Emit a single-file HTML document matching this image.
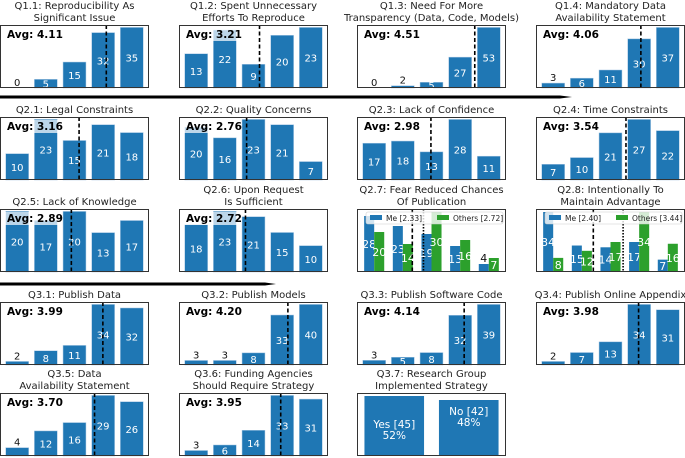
<!DOCTYPE html>
<html><head><meta charset="utf-8"><style>
html,body{margin:0;padding:0;background:#fff;}
svg{display:block;font-family:"DejaVu Sans","Liberation Sans",sans-serif;}
</style></head><body>
<svg id="fig" width="685" height="458" viewBox="0 0 685 458"></svg>
<script>
const titles = [
 ["Q1.1: Reproducibility As","Significant Issue"],["Q1.2: Spent Unnecessary","Efforts To Reproduce"],
 ["Q1.3: Need For More","Transparency (Data, Code, Models)"],["Q1.4: Mandatory Data","Availability Statement"],
 ["Q2.1: Legal Constraints"],["Q2.2: Quality Concerns"],["Q2.3: Lack of Confidence"],["Q2.4: Time Constraints"],
 ["Q2.5: Lack of Knowledge"],["Q2.6: Upon Request","Is Sufficient"],["Q2.7: Fear Reduced Chances","Of Publication"],["Q2.8: Intentionally To","Maintain Advantage"],
 ["Q3.1: Publish Data"],["Q3.2: Publish Models"],["Q3.3: Publish Software Code"],["Q3.4: Publish Online Appendix"],
 ["Q3.5: Data","Availability Statement"],["Q3.6: Funding Agencies","Should Require Strategy"],["Q3.7: Research Group","Implemented Strategy"]
];
const values = [
 [0,5,15,32,35],[13,22,9,20,23],[0,2,5,27,53],[3,6,11,30,37],
 [10,23,15,21,18],[20,16,23,21,7],[17,18,13,28,11],[7,10,21,27,22],
 [20,17,20,13,17],[18,23,21,15,10],null,null,
 [2,8,11,34,32],[3,3,8,33,40],[3,5,8,32,39],[2,7,13,34,31],
 [4,12,16,29,26],[3,6,14,33,31],null
];
const averages = [4.11,3.21,4.51,4.06,3.16,2.76,2.98,3.54,2.89,2.72,null,null,3.99,4.20,4.14,3.98,3.70,3.95,null];
const meQ27 = [28,23,19,13,4];
const othersQ27 = [20,14,30,16,7];
const meanQ27 = [2.33,2.72];
const meQ28 = [34,15,14,17,7];
const othersQ28 = [8,12,17,34,16];
const meanQ28 = [2.40,3.44];
const yesNoCounts = [45,42];
const yesNoLabels = ["Yes","No"];

const NS="http://www.w3.org/2000/svg";
const svg=document.getElementById('fig');
const colX=[0,179,357,536], rowY=[25,117,209,302,393], AW=149, AH=63;
const BLUE="#1f77b4", GREEN="#2ca02c";
function mk(tag,attrs,parent){const e=document.createElementNS(NS,tag);for(const k in attrs)e.setAttribute(k,attrs[k]);(parent||svg).appendChild(e);return e;}

let sep=mk('polygon',{points:"0,95.5 560,95.5 572,97 560,98.5 0,98.5",fill:"#000"});


sep=mk('polygon',{points:"0,282.5 265,282.5 276,284 265,285.5 0,285.5",fill:"#000"});



function panel(i){
  const x0=colX[i%4], y0=rowY[Math.floor(i/4)];
  const g=mk('g',{});
  
  
  const tl=titles[i];
  tl.forEach((t,k)=>{
    const tt=mk('text',{x:x0+AW/2,y:y0-4-(tl.length-1-k)*12,'text-anchor':'middle','font-size':'10',fill:'#222'},g);
    tt.textContent=t;
    
    
  });
  return {g,x0,y0};
}
function xs(x0,v,lo,hi){return x0+(v-lo)/(hi-lo)*AW;}
function ys(y0,v,ymax){return y0+AH-v/ymax*AH;}
function frame(g,x0,y0){
  const f=mk('rect',{x:x0+0.5,y:y0+0.5,width:AW-1,height:AH-1,fill:'none',stroke:'#333','stroke-width':1},g);
  
  
}
function barLabel(g,cx,top,bot,v,fs){
  const inside=v>=5;
  const t=mk('text',{x:cx,y:inside?(top+bot)/2+4:top-2,'text-anchor':'middle','font-size':fs||10,fill:inside?'#fff':'#111'},g);
  t.textContent=v;
  
  
}

for(let i=0;i<19;i++){
  const {g,x0,y0}=panel(i);
  if(values[i]){
    const vals=values[i], ymax=Math.max(...vals)*1.04;
    vals.forEach((v,k)=>{
      const l=xs(x0,k-0.4,-0.6,4.6), r=xs(x0,k+0.4,-0.6,4.6);
      const top=ys(y0,v,ymax), bot=y0+AH;
      const b=mk('rect',{x:l,y:top,width:r-l,height:bot-top,fill:BLUE,stroke:'#a9c8e4','stroke-width':0.5},g);
      
      
      barLabel(g,(l+r)/2,top,bot,v);
    });
    const mx=xs(x0,averages[i]-1,-0.6,4.6);
    const ml=mk('line',{x1:mx,x2:mx,y1:y0,y2:y0+AH,stroke:'#000','stroke-width':1.6,'stroke-dasharray':'4,2.5'},g);
    
    
    const bg=mk('rect',{x:x0+5,y:y0+3,width:56,height:13,fill:'rgba(255,255,255,0.7)'},g);
    
    
    const at=mk('text',{x:x0+7,y:y0+13,'font-size':10.5,'font-weight':'bold',fill:'#000'},g);
    at.textContent='Avg: '+averages[i].toFixed(2);
    
    
  } else if(i===10||i===11){
    const me=i===10?meQ27:meQ28, ot=i===10?othersQ27:othersQ28, mn=i===10?meanQ27:meanQ28;
    const ymax=Math.max(...me,...ot)*1.05;
    [[me,BLUE,-0.175,'me'],[ot,GREEN,0.175,'others']].forEach(([arr,col,off,nm])=>{
      arr.forEach((v,k)=>{
        const l=xs(x0,k+off-0.175,-0.6,4.6), r=xs(x0,k+off+0.175,-0.6,4.6);
        const top=ys(y0,v,ymax), bot=y0+AH;
        const b=mk('rect',{x:l,y:top,width:r-l,height:bot-top,fill:col},g);
        
        
        barLabel(g,(l+r)/2,top,bot,v,11);
      });
    });
    const m1=xs(x0,mn[0]-1,-0.6,4.6), m2=xs(x0,mn[1]-1,-0.6,4.6);
    let l1=mk('line',{x1:m1,x2:m1,y1:y0,y2:y0+AH,stroke:'#000','stroke-width':1.6,'stroke-dasharray':'4,2.5'},g);
    
    
    let l2=mk('line',{x1:m2,x2:m2,y1:y0,y2:y0+AH,stroke:'#000','stroke-width':1.6,'stroke-dasharray':'1.5,1.5'},g);
    
    
    const lg=mk('g',{},g);
    
    
    mk('rect',{x:x0+9,y:y0+3,width:AW-12,height:12,rx:2,fill:'rgba(255,255,255,0.8)',stroke:'#ccc','stroke-width':0.6},lg);
    const s1=mk('rect',{x:x0+13,y:y0+6,width:12,height:5,fill:BLUE},lg);
    
    
    const t1=mk('text',{x:x0+29,y:y0+12,'font-size':7.5,fill:'#222'},lg);
    t1.textContent='Me ['+mn[0].toFixed(2)+']';
    
    
    const s2=mk('rect',{x:x0+80,y:y0+6,width:12,height:5,fill:GREEN},lg);
    
    
    const t2=mk('text',{x:x0+96,y:y0+12,'font-size':7.5,fill:'#222'},lg);
    t2.textContent='Others ['+mn[1].toFixed(2)+']';
    
    
  } else {
    const ymax=Math.max(...yesNoCounts)*1.05, tot=yesNoCounts.reduce((a,b)=>a+b,0);
    yesNoCounts.forEach((v,k)=>{
      const l=xs(x0,k-0.4,-0.5,1.5), r=xs(x0,k+0.4,-0.5,1.5);
      const top=ys(y0,v,ymax), bot=y0+AH;
      const b=mk('rect',{x:l,y:top,width:r-l,height:bot-top,fill:BLUE},g);
      
      
      const cy=k===0?(top+bot)/2+2:top+15;
      const t=mk('text',{x:(l+r)/2,y:cy,'text-anchor':'middle','font-size':10.5,fill:'#fff'},g);
      t.textContent=yesNoLabels[k]+' ['+v+']';
      
      
      const p=mk('text',{x:(l+r)/2,y:cy+11,'text-anchor':'middle','font-size':10.5,fill:'#fff'},g);
      p.textContent=Math.round(v/tot*100)+'%';
      
      
    });
  }
  frame(g,x0,y0);
}
</script>
</body></html>
